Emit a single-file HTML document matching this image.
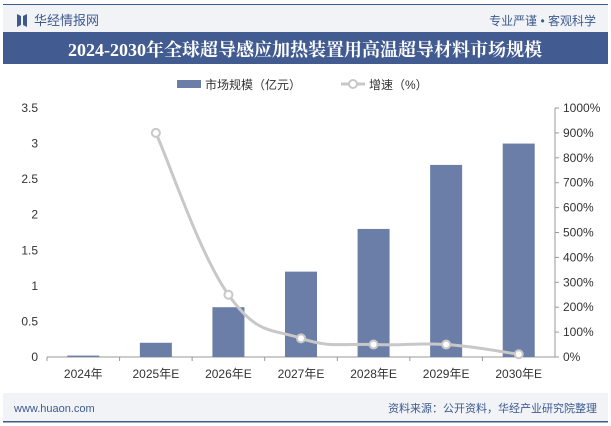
<!DOCTYPE html>
<html><head><meta charset="utf-8"><style>
body{margin:0;width:611px;height:426px;overflow:hidden;background:#fff;font-family:"Liberation Sans","Noto Sans CJK SC",sans-serif;}
svg{display:block}
</style></head><body>
<svg width="611" height="426" xmlns="http://www.w3.org/2000/svg">
<rect x="0" y="0" width="611" height="426" fill="#fff"/>
<rect x="3" y="4" width="605" height="1.5" fill="#3d5a8e"/>
<rect x="3" y="5" width="605" height="27" fill="#f1f3f7"/>
<path d="M17 14 L21 16 L21 25 L17 27 Z M27 14 L23 16 L23 25 L27 27 Z" fill="#3d5a8e"/>
<text x="34" y="25" font-size="13" fill="#3d5a8e">华经情报网</text>
<text x="596" y="25" font-size="12" fill="#3d5a8e" text-anchor="end">专业严谨 • 客观科学</text>
<rect x="3" y="32" width="605" height="32" fill="#425c92"/>
<text x="305" y="56" font-size="18" font-weight="bold" fill="#fff" text-anchor="middle" font-family="Liberation Serif,Noto Serif CJK SC,serif">2024-2030年全球超导感应加热装置用高温超导材料市场规模</text>
<rect x="177" y="80" width="24" height="8" fill="#6a7ea7"/>
<text x="205" y="89" font-size="12" fill="#333">市场规模（亿元）</text>
<line x1="341" y1="84" x2="365" y2="84" stroke="#c8c8c8" stroke-width="3"/>
<circle cx="353" cy="84" r="4" fill="#fff" stroke="#c8c8c8" stroke-width="2"/>
<text x="369" y="89" font-size="12" fill="#333">增速（%）</text>
<g id="plot"></g>
<rect x="3" y="393" width="605" height="29" fill="#f1f3f7"/>
<rect x="3" y="421" width="605" height="1.5" fill="#3d5a8e"/>
<text x="14" y="412" font-size="11" fill="#3d5a8e">www.huaon.com</text>
<text x="597" y="412" font-size="11" fill="#3d5a8e" text-anchor="end">资料来源：公开资料，华经产业研究院整理</text>
</svg>
<script>
const categories=["2024年","2025年E","2026年E","2027年E","2028年E","2029年E","2030年E"];
const marketSize=[0.02,0.2,0.7,1.2,1.8,2.7,3.0];
const growth=[null,900,250,75,50,50,11];
const leftTicks=["0","0.5","1","1.5","2","2.5","3","3.5"];
const rightTicks=["0%","100%","200%","300%","400%","500%","600%","700%","800%","900%","1000%"];
const NS="http://www.w3.org/2000/svg";
const g=document.getElementById('plot');
const x0=47,x1=555,yB=357,yT=108;
const band=(x1-x0)/categories.length;
const yL=v=>yB-(v/3.5)*(yB-yT);
const yR=v=>yB-(v/1000)*(yB-yT);
const xc=i=>x0+band*(i+0.5);
function mk(t,a){const e=document.createElementNS(NS,t);for(const k in a)e.setAttribute(k,a[k]);g.appendChild(e);return e;}
leftTicks.forEach((t,i)=>{const v=parseFloat(t);const e=mk('text',{x:38,y:yL(v)+4,'font-size':12,fill:'#333','text-anchor':'end'});e.textContent=t;

});
rightTicks.forEach((t,i)=>{const v=parseFloat(t);const y=yR(v);mk('line',{x1:x1,y1:y,x2:x1+4,y2:y,stroke:'#999'});const e=mk('text',{x:x1+8,y:y+4,'font-size':12,fill:'#333'});e.textContent=t;

});
mk('line',{x1:x1,y1:yT,x2:x1,y2:yB,stroke:'#999'});
mk('line',{x1:x0,y1:yB,x2:x1,y2:yB,stroke:'#999'});
categories.forEach((c,i)=>{mk('line',{x1:x0+band*i,y1:yB,x2:x0+band*i,y2:yB+4,stroke:'#999'});
const t=mk('text',{x:xc(i),y:yB+21,'font-size':12,fill:'#333','text-anchor':'middle'});t.textContent=c;


const b=mk('rect',{x:xc(i)-16,y:yL(marketSize[i]),width:32,height:yB-yL(marketSize[i]),fill:'#6a7ea7'});

});
const pts=[];growth.forEach((v,i)=>{if(v!==null)pts.push([xc(i),yR(v)]);});
let d='M'+pts[0][0]+' '+pts[0][1];
for(let i=0;i<pts.length-1;i++){const p0=pts[Math.max(0,i-1)],p1=pts[i],p2=pts[i+1],p3=pts[Math.min(pts.length-1,i+2)];const s=0.2;
d+=` C${p1[0]+(p2[0]-p0[0])*s} ${p1[1]+(p2[1]-p0[1])*s} ${p2[0]-(p3[0]-p1[0])*s} ${p2[1]-(p3[1]-p1[1])*s} ${p2[0]} ${p2[1]}`;}
const ln=mk('path',{d:d,fill:'none',stroke:'#c8c8c8','stroke-width':3});


pts.forEach(p=>{const c=mk('circle',{cx:p[0],cy:p[1],r:4,fill:'#fff',stroke:'#c8c8c8','stroke-width':2});

});
</script>
</body></html>
